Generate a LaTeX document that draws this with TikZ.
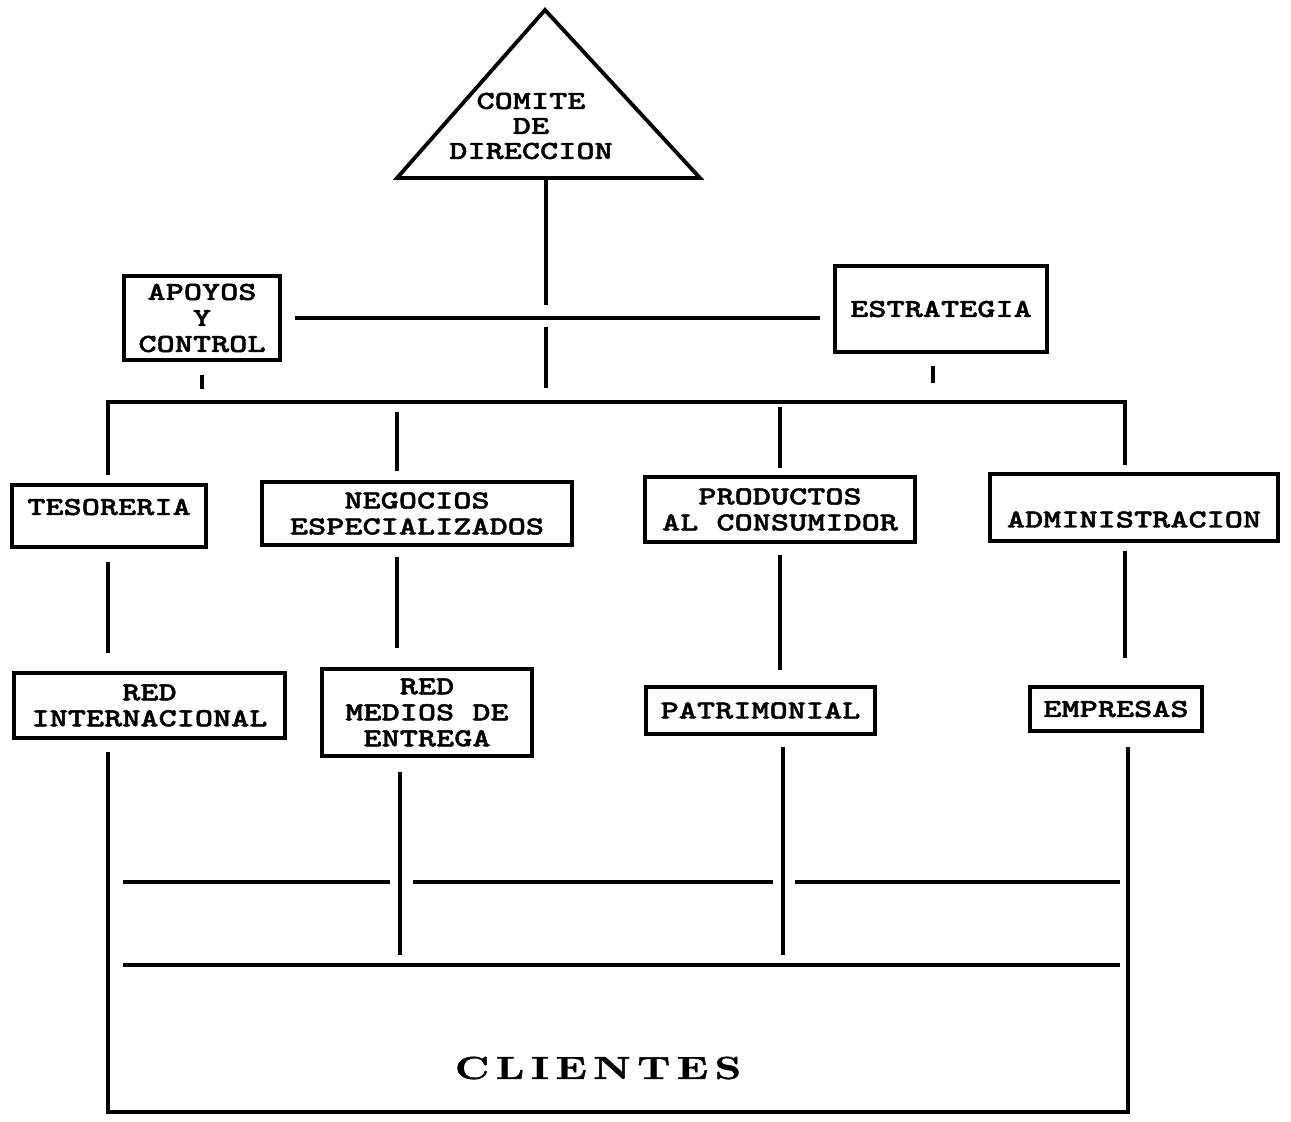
\documentclass[tikz,border=0pt]{standalone}
\usepackage{fontspec}
\usepackage{tikz}
\usetikzlibrary{positioning}
\usetikzlibrary{calc}
\newfontfamily\chartfont[FakeStretch=1.33,FakeBold=1.6]{lmmonolt10-bold.otf}
\newfontfamily\clientfont[FakeStretch=1.3,FakeBold=1.2,LetterSpace=20]{lmroman10-bold.otf}
\tikzset{
    org chart/.style={
            x=0.5pt,y=-0.5pt,
            link/.style={line width=1.7pt},
            unit/.style={draw,line width=1.7pt,inner sep=2pt,align=center,
                font=\chartfont\fontsize{13}{13}\selectfont}
        }
    }

\begin{document}
\begin{tikzpicture}[org chart]
        \useasboundingbox (0,0) rectangle (1291,1122);

        % comite
        \coordinate (apex) at (545,10);
        \coordinate (baseL) at (397,178);
        \coordinate (baseR) at (700,178);
        \coordinate (baseM) at (546,178);
        \draw [line width=1.9pt, line join=miter] (apex) -- (baseR) -- (baseL) -- cycle;
        \node (CdD) [align=center, font=\chartfont\fontsize{13}{12.5}\selectfont] at (531,126) {COMITE\\DE\\DIRECCION};

        % staff
        \node (ApC) [unit, minimum width=78pt, minimum height=42pt] at (202,318) {APOYOS\\Y\\CONTROL};
        \node (Est) [unit, minimum width=106pt, minimum height=43pt] at (941,309) {ESTRATEGIA};

        % bus
        \coordinate (busL) at (108,402);
        \coordinate (busR) at (1125,402);
        \coordinate (botL) at (108,1112);
        \coordinate (botR) at (1128,1112);
        \coordinate (band2L) at (123,965);
        \coordinate (band2R) at (1120,965);

        % first row
        \node (Tes) [unit, minimum width=97pt, minimum height=31pt, text height=9pt, text depth=10pt] at (109,516) {TESORERIA};
        \node (Neg) [unit, minimum width=155pt, minimum height=31.5pt] at (417,513.5) {NEGOCIOS\\ESPECIALIZADOS};
        \node (Pro) [unit, minimum width=135pt, minimum height=32.5pt] at (780,509.5) {PRODUCTOS\\AL CONSUMIDOR};
        \node (Adm) [unit, minimum width=144pt, minimum height=33.5pt, text height=20pt, text depth=0pt] at (1134,507.5) {ADMINISTRACION};

        % second row
        \node (RIn) [unit, minimum width=135.5pt, minimum height=32.5pt] at (149.5,705.5) {RED\\INTERNACIONAL};
        \node (RMe) [unit, minimum width=105pt, minimum height=43.5pt] at (427,712.5) {RED\\MEDIOS DE\\ENTREGA};
        \node (Pat) [unit, minimum width=114.5pt, minimum height=23.5pt] at (760.5,710.5) {PATRIMONIAL};
        \node (Emp) [unit, minimum width=86pt, minimum height=22pt] at (1116,709) {EMPRESAS};

        \node (Cli) [font=\clientfont\fontsize{16}{18}\selectfont] at (598,1068) {CLIENTES};

        % links
        \draw [link, shorten >=6.5pt] (baseM) -- (baseM |- ApC.east);
        \draw [link, shorten <=6.5pt, shorten >=6.5pt] (ApC.east) -- (ApC.east -| Est.west);
        \draw [link, shorten <=4.5pt, shorten >=7pt] (baseM |- ApC.east) -- (baseM |- busL);
        \draw [link, shorten <=6.5pt, shorten >=6.5pt] (ApC.south) -- (ApC.south |- busL);
        \draw [link, shorten <=6pt, shorten >=9.5pt] ([xshift=-4pt]Est.south) -- ([xshift=-4pt]Est.south |- busL);
        \draw [link, line join=miter, shorten <=4pt, shorten >=3.5pt] (busL |- Tes.north) -- (busL) -- (busR) -- (busR |- Adm.north);
        \draw [link, shorten <=5pt, shorten >=4.5pt] ([xshift=-10pt]Neg.north |- busL) -- ([xshift=-10pt]Neg.north);
        \draw [link, shorten <=2.5pt, shorten >=3.5pt] (Pro.north |- busL) -- (Pro.north);

        \draw [link, shorten <=6.5pt, shorten >=9pt] (busL |- Tes.south) -- (busL |- RIn.north);
        \draw [link, shorten <=5pt, shorten >=9.5pt] ([xshift=-10pt]Neg.south) -- ([xshift=-10pt]Neg.south |- RMe.north);
        \draw [link, shorten <=5.5pt, shorten >=7.5pt] (Pro.south) -- (Pro.south |- Pat.north);
        \draw [link, shorten <=4pt, shorten >=13.5pt] (busR |- Adm.south) -- (busR |- Emp.north);

        \draw [link, line join=miter, shorten <=6pt, shorten >=7pt] (botL |- RIn.south) -- (botL) -- (botR) -- (botR |- Emp.south);
        \draw [link, shorten <=7pt, shorten >=5pt] ([xshift=-13.5pt]RMe.south) -- ([xshift=-13.5pt]RMe.south |- band2L);
        \draw [link, shorten <=5.5pt, shorten >=5pt] ([xshift=11.25pt]Pat.south) -- ([xshift=11.25pt]Pat.south |- band2L);

        \foreach \a/\b in {123/390,413/773,795/1120}
            \draw [link] (\a,882) -- (\b,882);
        \draw [link] (band2L) -- (band2R);
    \end{tikzpicture}
\end{document}
